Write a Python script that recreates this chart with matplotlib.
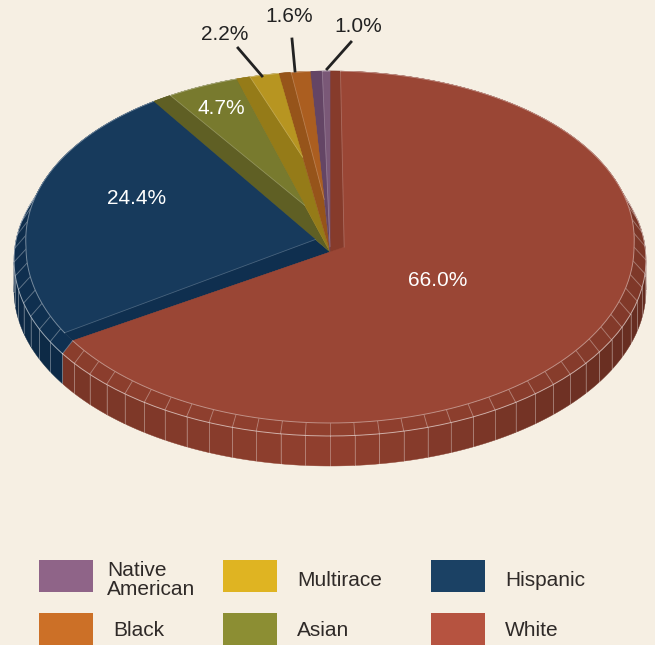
import numpy as np
import matplotlib
matplotlib.use('Agg')
import matplotlib.pyplot as plt
from matplotlib.patches import Rectangle
from matplotlib.colors import to_rgb

plt.rcParams['font.family'] = ['Liberation Sans', 'DejaVu Sans']

# datos, en sentido horario desde arriba
grupos = ['White', 'Hispanic', 'Asian', 'Multirace', 'Black', 'Native American']
valores = [66.0, 24.4, 4.7, 2.2, 1.6, 1.0]

leyenda_col1 = ['Native\nAmerican', 'Black']
leyenda_col2 = ['Multirace', 'Asian']
leyenda_col3 = ['Hispanic', 'White']

color_leyenda = {'White': '#b65340', 'Hispanic': '#1b4164', 'Asian': '#8c8e33',
                 'Multirace': '#dfb422', 'Black': '#cc7027', 'Native American': '#8f6488'}
color_cara = {'White': '#9a4635', 'Hispanic': '#173a5c', 'Asian': '#787a2e',
              'Multirace': '#b79521', 'Black': '#ab5e20', 'Native American': '#7a5877'}
color_tira = {'White': '#863b2b', 'Hispanic': '#0f2f4f', 'Asian': '#5f5f24',
              'Multirace': '#957b18', 'Black': '#96541a', 'Native American': '#644565'}
# ancho de la tira oscura (grados) y donde arranca la cara sobre el borde final
tira_grados = {'White': 1.9, 'Hispanic': 3.0, 'Asian': 3.7, 'Multirace': 2.6, 'Black': 2.3, 'Native American': 2.2}
tira_t = {'White': -0.055, 'Hispanic': 0.083, 'Asian': 0.27, 'Multirace': 0.53, 'Black': 0.29, 'Native American': 0.03}

fondo = '#f6efe3'
cx, cy = 330, 252      # vertice
cy_cara, ry_cara = 247, 176
cy_aro, rx_aro, ry_aro = 260, 316, 176
alto = 30


def punto_cara(t):
    t = np.radians(t)
    rx = 304 + 12 * np.maximum(np.cos(t), 0)
    return cx + rx * np.sin(t), cy_cara - ry_cara * np.cos(t)


def punto_aro(t, dy=0):
    t = np.radians(t)
    return cx + rx_aro * np.sin(t), cy_aro + dy - ry_aro * np.cos(t)


def sombra(color, t):
    # la pared es mas clara abajo y mas oscura a la derecha
    s = np.sin(np.radians(t))
    c = -np.cos(np.radians(t))
    f = 0.98 + 0.10 * max(c, 0) ** 6 - 0.22 * max(s, 0) - 0.10 * max(-s, 0)
    return tuple(min(1, v * f) for v in to_rgb(color))


fig = plt.figure(figsize=(6.55, 6.45), dpi=100, facecolor=fondo)
ax = fig.add_axes([0, 0, 1, 1])
ax.set_xlim(0, 655)
ax.set_ylim(645, 0)
ax.axis('off')

limites = np.concatenate([[0], np.cumsum(valores)]) / sum(valores) * 360

# paredes y aro
for i, g in enumerate(grupos):
    a0, a1 = limites[i], limites[i + 1]
    pasos = np.arange(a0, a1 + 4.5, 4.5)
    pasos[-1] = a1
    pasos = pasos[pasos <= a1]
    if pasos[-1] < a1:
        pasos = np.append(pasos, a1)
    for t0, t1 in zip(pasos[:-1], pasos[1:]):
        tt = np.linspace(t0, t1, 6)
        xs, ys = punto_aro(tt)
        if np.cos(np.radians((t0 + t1) / 2)) < 0.25:
            xb, yb = punto_aro(tt, alto)
            ax.fill(np.r_[xs, xb[::-1]], np.r_[ys, yb[::-1]], color=sombra(color_tira[g], (t0 + t1) / 2),
                    lw=0.3, zorder=1)
            ax.plot([xs[0], xb[0]], [ys[0], yb[0]], color='white', alpha=0.3, lw=0.7, zorder=1.5)
    for t0, t1 in zip(pasos[:-1], pasos[1:]):
        tt = np.linspace(t0, t1, 6)
        xs, ys = punto_aro(tt)
        xi, yi = punto_cara(tt)
        ax.fill(np.r_[xs, xi[::-1]], np.r_[ys, yi[::-1]], color=sombra(color_tira[g], 180 + 0.3 * ((t0 + t1) / 2 - 180)),
                lw=0.3, zorder=2)
        ax.plot([xs[0], xi[0]], [ys[0], yi[0]], color='white', alpha=0.28, lw=0.7, zorder=2.5)
    tt = np.linspace(a0, a1, 80)
    xs, ys = punto_aro(tt)
    ax.plot(xs, ys, color='white', alpha=0.55, lw=0.7, zorder=2.6)

# caras, la grande al final
for i in [1, 2, 3, 4, 5, 0]:
    g = grupos[i]
    a0, a1 = limites[i], limites[i + 1]
    tt = np.linspace(a0, a1, 120)
    xs, ys = punto_cara(tt)
    ax.fill(np.r_[cx, xs], np.r_[cy, ys], color=color_tira[g], lw=0.3, zorder=3 + i * 0.01)

    xf, yf = punto_cara(a1)
    ap_x = cx + tira_t[g] * (xf - cx)
    ap_y = cy + tira_t[g] * (yf - cy)
    tt2 = np.linspace(a0 + tira_grados[g], a1, 120)
    xs2, ys2 = punto_cara(tt2)
    ax.fill(np.r_[ap_x, xs2], np.r_[ap_y, ys2], color=color_cara[g], lw=0.3, zorder=3.1 + i * 0.01)
    ax.plot(xs2, ys2, color='white', alpha=0.4, lw=0.7, zorder=3.2)
    ax.plot([ap_x, xs2[0]], [ap_y, ys2[0]], color='white', alpha=0.22, lw=0.6, zorder=3.2)

# textos sobre la torta
ax.text(438, 280, '66.0%', color='white', fontsize=15, ha='center', va='center', zorder=5)
ax.text(137, 199, '24.4%', color='white', fontsize=15, ha='center', va='center', zorder=5)
ax.text(221, 108, '4.7%', color='white', fontsize=15, ha='center', va='center', zorder=5)
ax.text(225, 35, '2.2%', color='#222222', fontsize=15, ha='center', va='center', zorder=5)
ax.text(289, 16, '1.6%', color='#222222', fontsize=15, ha='center', va='center', zorder=5)
ax.text(358, 27, '1.0%', color='#222222', fontsize=15, ha='center', va='center', zorder=5)
ax.plot([238, 262], [48, 76], color='#222222', lw=2, zorder=5)
ax.plot([292, 295], [39, 71], color='#222222', lw=2, zorder=5)
ax.plot([351, 327], [42, 69], color='#222222', lw=2, zorder=5)

# leyenda
for x, y, g in [(39, 560, 'Native American'), (39, 613, 'Black'), (223, 560, 'Multirace'),
                (223, 613, 'Asian'), (431, 560, 'Hispanic'), (431, 613, 'White')]:
    ax.add_patch(Rectangle((x, y), 54, 32, color=color_leyenda[g], lw=0))

color_texto = '#2f2a28'
ax.text(107, 580, leyenda_col1[0], color=color_texto, fontsize=15, ha='left', va='center', linespacing=1.0)
ax.text(113, 631, leyenda_col1[1], color=color_texto, fontsize=15, ha='left', va='center')
ax.text(297, 580, leyenda_col2[0], color=color_texto, fontsize=15, ha='left', va='center')
ax.text(297, 631, leyenda_col2[1], color=color_texto, fontsize=15, ha='left', va='center')
ax.text(505, 580, leyenda_col3[0], color=color_texto, fontsize=15, ha='left', va='center')
ax.text(505, 631, leyenda_col3[1], color=color_texto, fontsize=15, ha='left', va='center')

fig.savefig('out.png', dpi=100, facecolor=fondo)
